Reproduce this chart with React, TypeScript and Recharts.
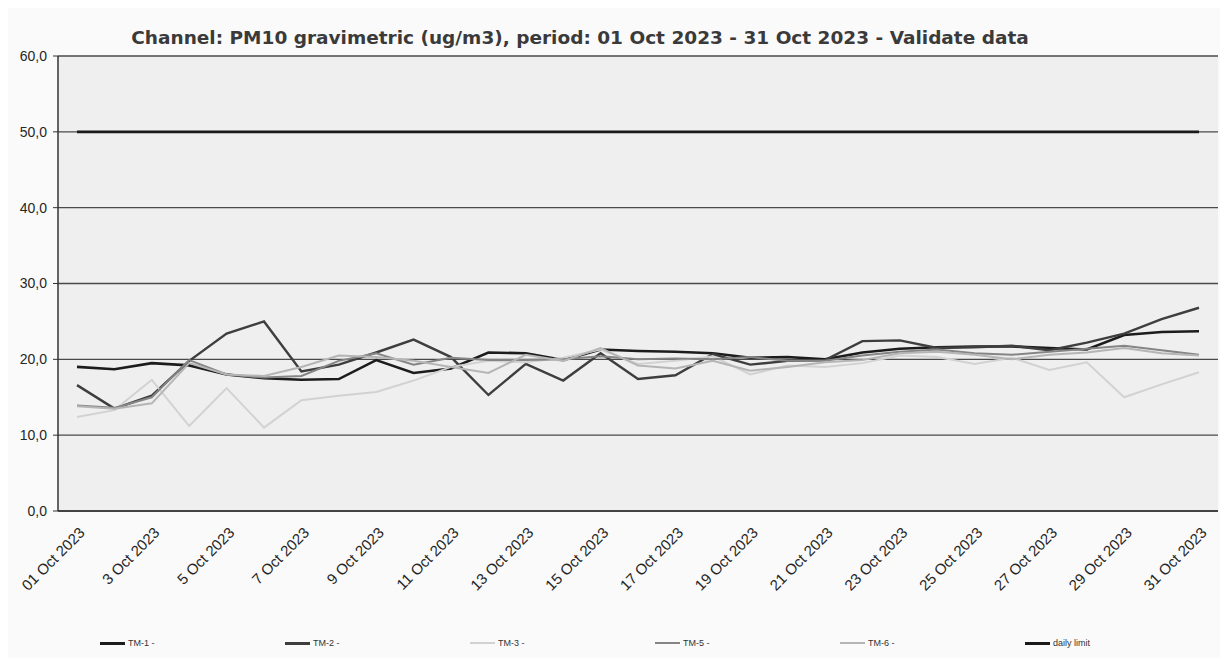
import { CartesianGrid, Line, LineChart, XAxis, YAxis } from "recharts";

const days = [
  "01 Oct 2023", "2 Oct 2023", "3 Oct 2023", "4 Oct 2023", "5 Oct 2023",
  "6 Oct 2023", "7 Oct 2023", "8 Oct 2023", "9 Oct 2023", "10 Oct 2023",
  "11 Oct 2023", "12 Oct 2023", "13 Oct 2023", "14 Oct 2023", "15 Oct 2023",
  "16 Oct 2023", "17 Oct 2023", "18 Oct 2023", "19 Oct 2023", "20 Oct 2023",
  "21 Oct 2023", "22 Oct 2023", "23 Oct 2023", "24 Oct 2023", "25 Oct 2023",
  "26 Oct 2023", "27 Oct 2023", "28 Oct 2023", "29 Oct 2023", "30 Oct 2023",
  "31 Oct 2023",
];

const tm1 = [19.0, 18.7, 19.5, 19.2, 18.0, 17.5, 17.3, 17.4, 19.9, 18.2, 18.8, 20.9, 20.8, 19.9, 21.3, 21.1, 21.0, 20.8, 20.2, 20.3, 20.0, 20.9, 21.4, 21.6, 21.7, 21.7, 21.5, 21.3, 23.2, 23.6, 23.7];
const tm2 = [16.6, 13.5, 15.2, 19.8, 23.4, 25.0, 18.4, 19.3, 20.9, 22.6, 20.3, 15.3, 19.4, 17.2, 20.8, 17.4, 17.9, 20.7, 19.3, 19.8, 19.9, 22.4, 22.5, 21.5, 21.6, 21.8, 21.2, 22.2, 23.4, 25.3, 26.8];
const tm3 = [12.4, 13.3, 17.3, 11.2, 16.2, 11.0, 14.6, 15.2, 15.7, 17.2, 19.0, 19.8, 19.6, 20.2, 21.3, 19.4, 19.8, 20.4, 18.0, 19.2, 19.0, 19.5, 20.5, 20.3, 19.4, 20.2, 18.6, 19.6, 15.0, 16.7, 18.3];
const tm5 = [13.9, 13.6, 15.0, 19.9, 18.0, 17.6, 17.8, 19.8, 20.8, 19.3, 20.2, 19.9, 19.9, 20.0, 20.4, 20.0, 20.1, 20.0, 20.3, 19.8, 19.8, 20.5, 21.0, 21.3, 20.8, 20.6, 21.0, 21.4, 21.8, 21.2, 20.6];
const tm6 = [13.8, 13.5, 14.2, 19.5, 18.0, 17.8, 19.0, 20.5, 20.3, 19.8, 19.0, 18.2, 20.6, 19.8, 21.5, 19.2, 18.8, 19.8, 18.5, 19.0, 19.6, 19.9, 20.8, 21.0, 20.6, 20.0, 20.6, 20.9, 21.5, 20.8, 20.5];
const dailyLimit = [50, 50, 50, 50, 50, 50, 50, 50, 50, 50, 50, 50, 50, 50, 50, 50, 50, 50, 50, 50, 50, 50, 50, 50, 50, 50, 50, 50, 50, 50, 50];

const yTicks = [0, 10, 20, 30, 40, 50, 60];

const series = [
  { key: "tm1", name: "TM-1 -", color: "#1c1c1c", width: 2.6 },
  { key: "tm2", name: "TM-2 -", color: "#3e3e3e", width: 2.4 },
  { key: "tm3", name: "TM-3 -", color: "#d2d2d2", width: 2 },
  { key: "tm5", name: "TM-5 -", color: "#858585", width: 2 },
  { key: "tm6", name: "TM-6 -", color: "#b5b5b5", width: 2 },
  { key: "limit", name: "daily limit", color: "#1a1a1a", width: 2.6 },
];

const data = days.map((d, i) => ({
  day: d,
  tm1: tm1[i],
  tm2: tm2[i],
  tm3: tm3[i],
  tm5: tm5[i],
  tm6: tm6[i],
  limit: dailyLimit[i],
}));

const font = "'Liberation Sans', Arial, sans-serif";

function DateTick(props: any) {
  const { x, y, payload } = props;
  return (
    <g transform={`translate(${x + 5},${y + 11})`}>
      <text
        x={0}
        y={0}
        dy="0.35em"
        textAnchor="end"
        transform="rotate(-45)"
        fontSize={15}
        fontFamily={font}
        fill="#262626"
      >
        {payload.value}
      </text>
    </g>
  );
}

export default function App() {
  return (
    <div
      style={{
        position: "relative",
        width: 1216,
        height: 650,
        background: "#fafafa",
        fontFamily: font,
      }}
    >
      <div
        style={{
          position: "absolute",
          top: 19,
          left: 0,
          width: 1144,
          textAlign: "center",
          fontFamily: "'DejaVu Sans', Verdana, sans-serif",
          fontWeight: "bold",
          fontSize: 18.5,
          color: "#3a3a3a",
        }}
      >
        Channel: PM10 gravimetric (ug/m3), period: 01 Oct 2023 - 31 Oct 2023 - Validate data
      </div>

      <LineChart
        width={1216}
        height={600}
        data={data}
        margin={{ top: 48, right: 6, bottom: 0, left: 0 }}
      >
        <CartesianGrid
          vertical={false}
          stroke="#4a4a4a"
          strokeWidth={1.3}
          fill="#efefef"
          fillOpacity={1}
        />
        <XAxis
          dataKey="day"
          interval={1}
          height={97}
          padding={{ left: 19, right: 19 }}
          tickLine={false}
          axisLine={{ stroke: "#333", strokeWidth: 1.5 }}
          tick={<DateTick />}
        />
        <YAxis
          domain={[0, 60]}
          ticks={yTicks}
          width={50}
          tickSize={5}
          tickMargin={6}
          tickLine={{ stroke: "#333" }}
          axisLine={{ stroke: "#333", strokeWidth: 1.5 }}
          tickFormatter={(v: number) => v.toFixed(1).replace(".", ",")}
          tick={{ fill: "#262626", fontSize: 14, fontFamily: font }}
        />
        <YAxis
          yAxisId="frame"
          orientation="right"
          width={0}
          tick={false}
          tickLine={false}
          axisLine={{ stroke: "#555", strokeWidth: 1.3 }}
        />
        {series.map((s) => (
          <Line
            key={s.key}
            type="linear"
            dataKey={s.key}
            name={s.name}
            stroke={s.color}
            strokeWidth={s.width}
            dot={false}
            activeDot={false}
            isAnimationActive={false}
          />
        ))}
      </LineChart>

      <div
        style={{
          position: "absolute",
          top: 630,
          left: 92,
          display: "flex",
        }}
      >
        {series.map((s) => (
          <div
            key={s.key}
            style={{ width: 185, display: "flex", alignItems: "center" }}
          >
            <span
              style={{
                display: "inline-block",
                width: 25,
                height: s.width > 2.2 ? 3 : 2,
                background: s.color,
                marginRight: 3,
              }}
            />
            <span style={{ fontSize: 9, color: "#333" }}>{s.name}</span>
          </div>
        ))}
      </div>
    </div>
  );
}
